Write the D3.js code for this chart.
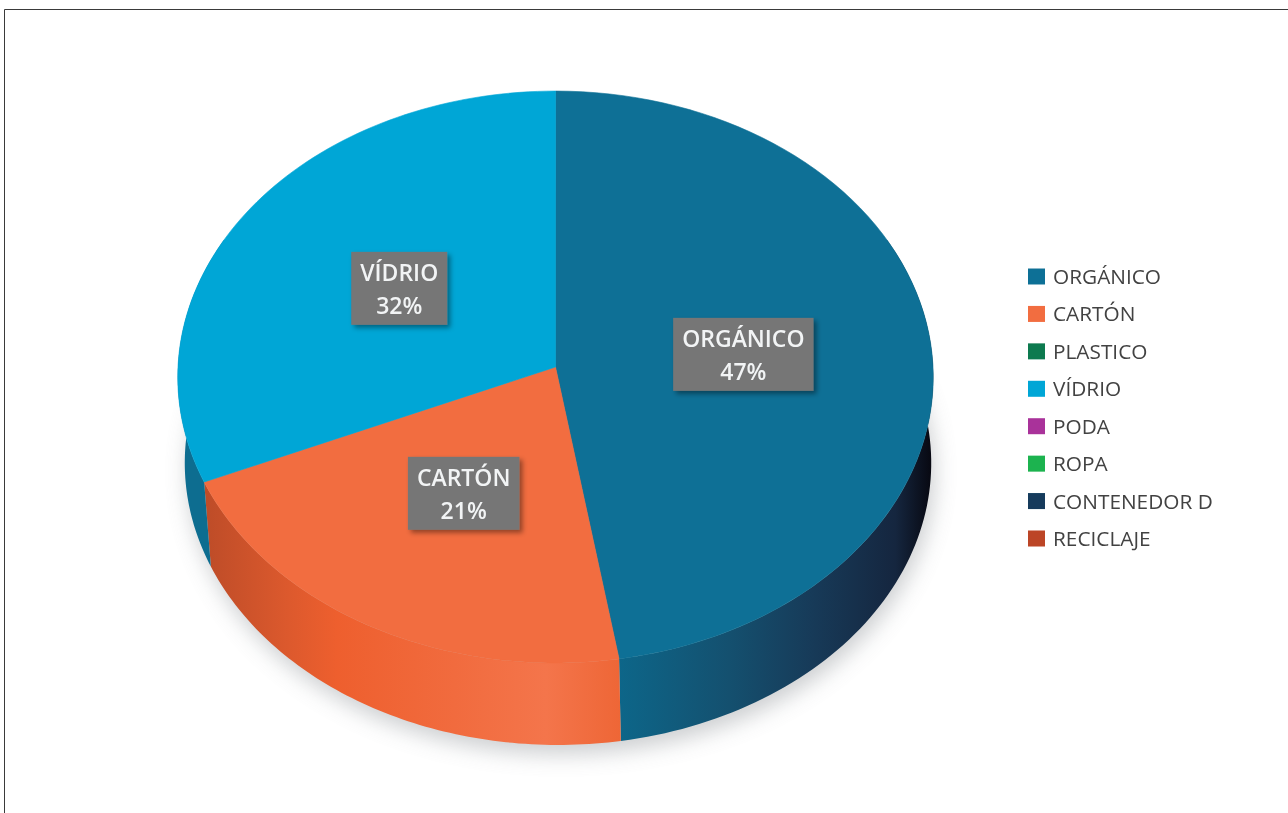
<!DOCTYPE html>
<html><head><meta charset="utf-8">
<script src="https://cdn.jsdelivr.net/npm/d3@7"></script>
<style>html,body{margin:0;padding:0;background:#fff}svg{display:block}</style>
</head><body><svg id="c" width="1288" height="813"></svg>
<script>
const categories = ["ORGÁNICO","CARTÓN","PLASTICO","VÍDRIO","PODA","ROPA","CONTENEDOR D","RECICLAJE"];
const shareValues = [47.4,21.1,0,31.5,0,0,0,0];
const sliceColors = ["#0e7096","#f26d40","#0d7a4f","#00a6d6","#a9329a","#1fb34f","#123a5c","#bc4526"];
const wallStops = {
  "ORGÁNICO":[[0,"#0d6689"],[.35,"#14506f"],[.62,"#173a58"],[.88,"#15263f"],[1,"#07070f"]],
  "CARTÓN":[[0,"#bd4c28"],[.2,"#dc592d"],[.32,"#ee5f2e"],[.6,"#f16b3e"],[.82,"#f4754b"],[1,"#ee6636"]],
  "VÍDRIO":[[0,"#0d6d90"],[1,"#0d6d90"]]
};
const svg = d3.select("#c");
const defs = svg.append("defs");
const font = "'Open Sans',sans-serif";

// frame
svg.append("path").attr("d","M4.5,813V9.5H1288").attr("fill","none").attr("stroke","#3a3a3a").attr("stroke-width",1);

// perspective view of the disc
const cx=555.5, cy=367, a=377.5, s=285.6, k=-0.035;
const topPt=(t,r=1)=>{const x=r*Math.sin(t),y=-r*Math.cos(t),w=1+k*y;return [cx+a*x/w,cy+s*y/w];};
const bottomPt=t=>{const p=topPt(t);return [cx+2.5+(p[0]-cx)*373/377.5,463+(p[1]-377)*282/286];};
const line=d3.line();
const TAU=2*Math.PI;
const pie=d3.pie().sort(null).value(d=>d.v);
const rows=categories.map((c,i)=>({c,v:shareValues[i],col:sliceColors[i]}));
const arcs=pie(rows).filter(d=>d.data.v>0);
const samples=(a0,a1)=>d3.range(0,81).map(i=>a0+(a1-a0)*i/80);

// soft shadow
const f=defs.append("filter").attr("id","sh").attr("x","-20%").attr("y","-20%").attr("width","140%").attr("height","140%");
f.append("feGaussianBlur").attr("stdDeviation",11);
const allT=samples(0,TAU);
svg.append("path").attr("d",line(allT.map(bottomPt))+"Z").attr("transform","translate(3,9)")
  .attr("fill","#8d9296").attr("opacity",.45).attr("filter","url(#sh)");

// walls
const wallMin=Math.PI*0.35, wallMax=Math.PI*1.65;
arcs.forEach((d,i)=>{
  const a0=Math.max(d.startAngle,wallMin),a1=Math.min(d.endAngle,wallMax);
  if(a1<=a0) return;
  const ts=samples(a0,a1);
  const pts=ts.map(t=>topPt(t)).concat(ts.slice().reverse().map(bottomPt));
  const ext=d3.extent(pts,p=>p[0]);
  const id="w"+i;
  const g=defs.append("linearGradient").attr("id",id).attr("gradientUnits","userSpaceOnUse")
    .attr("x1",ext[0]).attr("x2",ext[1]).attr("y1",0).attr("y2",0);
  wallStops[d.data.c].forEach(([o,c])=>g.append("stop").attr("offset",o).attr("stop-color",c));
  svg.append("path").attr("d",line(pts)+"Z").attr("fill",`url(#${id})`);
});

// top slices
arcs.forEach(d=>{
  const pts=[[cx,cy]].concat(samples(d.startAngle,d.endAngle).map(t=>topPt(t)));
  svg.append("path").attr("d",line(pts)+"Z").attr("fill",d.data.col)
    .attr("stroke",d.data.col).attr("stroke-width",.6);
});

// data labels
const ls=defs.append("filter").attr("id","ls").attr("x","-20%").attr("y","-20%").attr("width","140%").attr("height","140%");
ls.append("feDropShadow").attr("dx",3).attr("dy",3).attr("stdDeviation",2.5).attr("flood-color","#000").attr("flood-opacity",.4);
const soft=defs.append("filter").attr("id","soft");
soft.append("feGaussianBlur").attr("stdDeviation",.5);
const pct=d3.format(".0f");
arcs.forEach(d=>{
  const m=(d.startAngle+d.endAngle)/2, p=topPt(m,.5);
  const g=svg.append("g").attr("transform",`translate(${p[0]},${p[1]-1})`);
  const r=g.append("rect").attr("y",-36.5).attr("height",73).attr("fill","#767676").attr("filter","url(#ls)");
  const tg=g.append("g").attr("filter","url(#soft)").attr("text-anchor","middle").attr("fill","#f2f4f5")
    .style("font-family",font).style("font-size","23px").style("font-weight",600);
  const t1=tg.append("text").attr("y",-7).text(d.data.c);
  tg.append("text").attr("y",25.5).text(pct(d.data.v)+"%");
  const w=t1.node().getComputedTextLength()+18;
  r.attr("x",-w/2).attr("width",w);
});

// legend
const yL=d3.scalePoint().domain(categories).range([276.5,538.5]);
const lg=svg.append("g").attr("filter","url(#soft)");
rows.forEach(d=>{
  const y=yL(d.c);
  lg.append("rect").attr("x",1028).attr("y",y-8).attr("width",17).attr("height",16).attr("fill",d.col);
  lg.append("text").attr("x",1053).attr("y",y+7.5).attr("fill","#424242")
    .style("font-family",font).style("font-size","20.8px").text(d.c);
});
</script></body></html>
